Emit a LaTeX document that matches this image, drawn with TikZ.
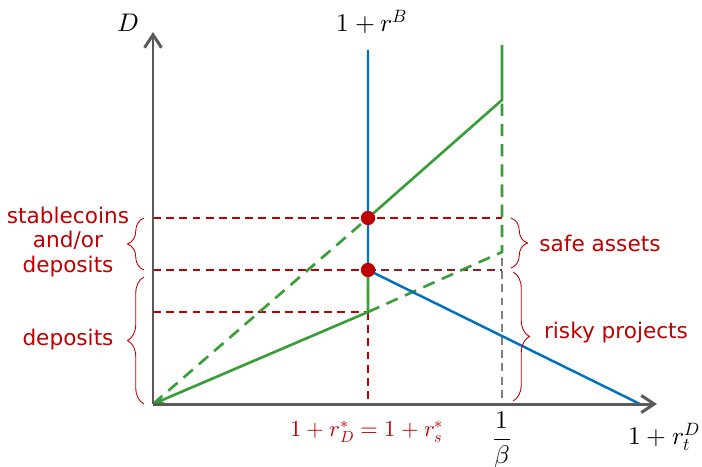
\documentclass[tikz,border=0pt]{standalone}
\usepackage{fontspec}
\usepackage{unicode-math}
\setmathfont{Latin Modern Math}
\newfontfamily\labelfont{DejaVu Sans}
\usetikzlibrary{arrows.meta,decorations.pathreplacing}

\definecolor{axisgray}{RGB}{90,90,90}
\definecolor{bankblue}{RGB}{0,112,192}
\definecolor{assetgreen}{RGB}{56,158,56}
\definecolor{eqred}{RGB}{192,0,0}
\definecolor{darkeqred}{RGB}{150,30,30}
\definecolor{guidegray}{RGB}{128,128,128}

\tikzset{
    axis/.style={axisgray, line width=1.7pt, -{Straight Barb[length=0.26cm,width=0.34cm]}},
    blueline/.style={bankblue, line width=1.4pt},
    greenline/.style={assetgreen, line width=1.5pt},
    greendash/.style={assetgreen, line width=1.5pt, dash pattern=on 7pt off 4.5pt},
    reddash/.style={eqred, line width=0.9pt, dash pattern=on 4.5pt off 3pt},
    graydash/.style={guidegray, line width=0.9pt, dash pattern=on 4.5pt off 3pt},
    eqdot/.style={circle, fill=eqred, inner sep=0pt, minimum size=0.28cm},
    bracelabel/.style={eqred, font=\labelfont\fontsize{12.3}{14}\selectfont, align=center},
    curlybrace/.style={eqred, line width=0.5pt, decorate, decoration={brace, amplitude=0.33cm}},
    mathlabel/.style={font=\fontsize{14.5}{17}\selectfont}
}

\begin{document}
\begin{tikzpicture}[x=0.02cm, y=-0.02cm]
    \useasboundingbox (0,0) rectangle (702,466);

    % Points of the diagram
    \coordinate (o) at (153,404);
    \coordinate (ytip) at (153,32);
    \coordinate (xtip) at (657,404);
    \coordinate (btop) at (368,50);
    \coordinate (bend) at (640,404);
    \coordinate (rs) at (368,404);
    \coordinate (g1) at (368,312);
    \coordinate (g2) at (502,252);
    \coordinate (g3) at (502,100);
    \coordinate (g4) at (502,45);
    \coordinate (gb) at (502,404);
    \coordinate (gm) at (502,258);
    \coordinate (h1) at (502,218);
    \coordinate (h2) at (502,270);
    \coordinate (l1) at (153,218);
    \coordinate (l2) at (153,270);
    \coordinate (l3) at (153,312);

    % Equilibrium dots
    \node (top) at (368,218) [eqdot] {};
    \node (low) at (368,270) [eqdot] {};

    % Guide lines
    \draw[reddash] (l1) -- (h1);
    \draw[reddash] (l2) -- (low.center);
    \draw[reddash, darkeqred] (low.center) -- (h2);
    \draw[reddash] (l3) -- (g1);
    \draw[reddash] (g1) -- (rs);
    \draw[graydash] (gm) -- (gb);

    % Green curves
    \draw[greendash] (o) -- (top.center);
    \draw[greendash] (g1) -- (g2) -- (g3);
    \draw[greenline, {Stealth[length=7pt,width=6pt]}-] (o) -- (g1) -- (low.center);
    \draw[greenline] (top.center) -- (g3) -- (g4);

    % Blue curve
    \draw[blueline] (btop) -- (low.center) -- (bend);

    % Axes
    \draw[axis] (o) -- (ytip);
    \draw[axis] (o) -- (xtip);

    % Dots on top
    \node at (top) [eqdot] {};
    \node at (low) [eqdot] {};

    % Braces
    \draw[curlybrace] (144,270) -- (144,218);
    \draw[curlybrace] (144,404) -- (144,277);
    \draw[curlybrace] (511,218) -- (511,268);
    \draw[curlybrace] (513,272) -- (513,401);

    % Labels
    \node[bracelabel] (lsc) at (68,242) {stablecoins\\and/or\\deposits};
    \node[bracelabel] (ldep) at (68,340) {deposits};
    \node[bracelabel] (lsafe) at (600,243) {safe assets};
    \node[bracelabel] (lrisky) at (616,333) {risky projects};

    \node[mathlabel] (ld) at (128,23) {$D$};
    \node[mathlabel] (lrb) at (372,22) {$1+r^B$};
    \node[mathlabel, eqred, font=\fontsize{13}{15}\selectfont] (lrstar) at (367,432) {$1+r_D^*=1+r_s^*$};
    \node[mathlabel] (lbeta) at (502,440) {$\dfrac{1}{\beta}$};
    \node[mathlabel, anchor=east, inner xsep=1pt] (lrt) at (702,437) {$1+r_t^D$};
\end{tikzpicture}
\end{document}
